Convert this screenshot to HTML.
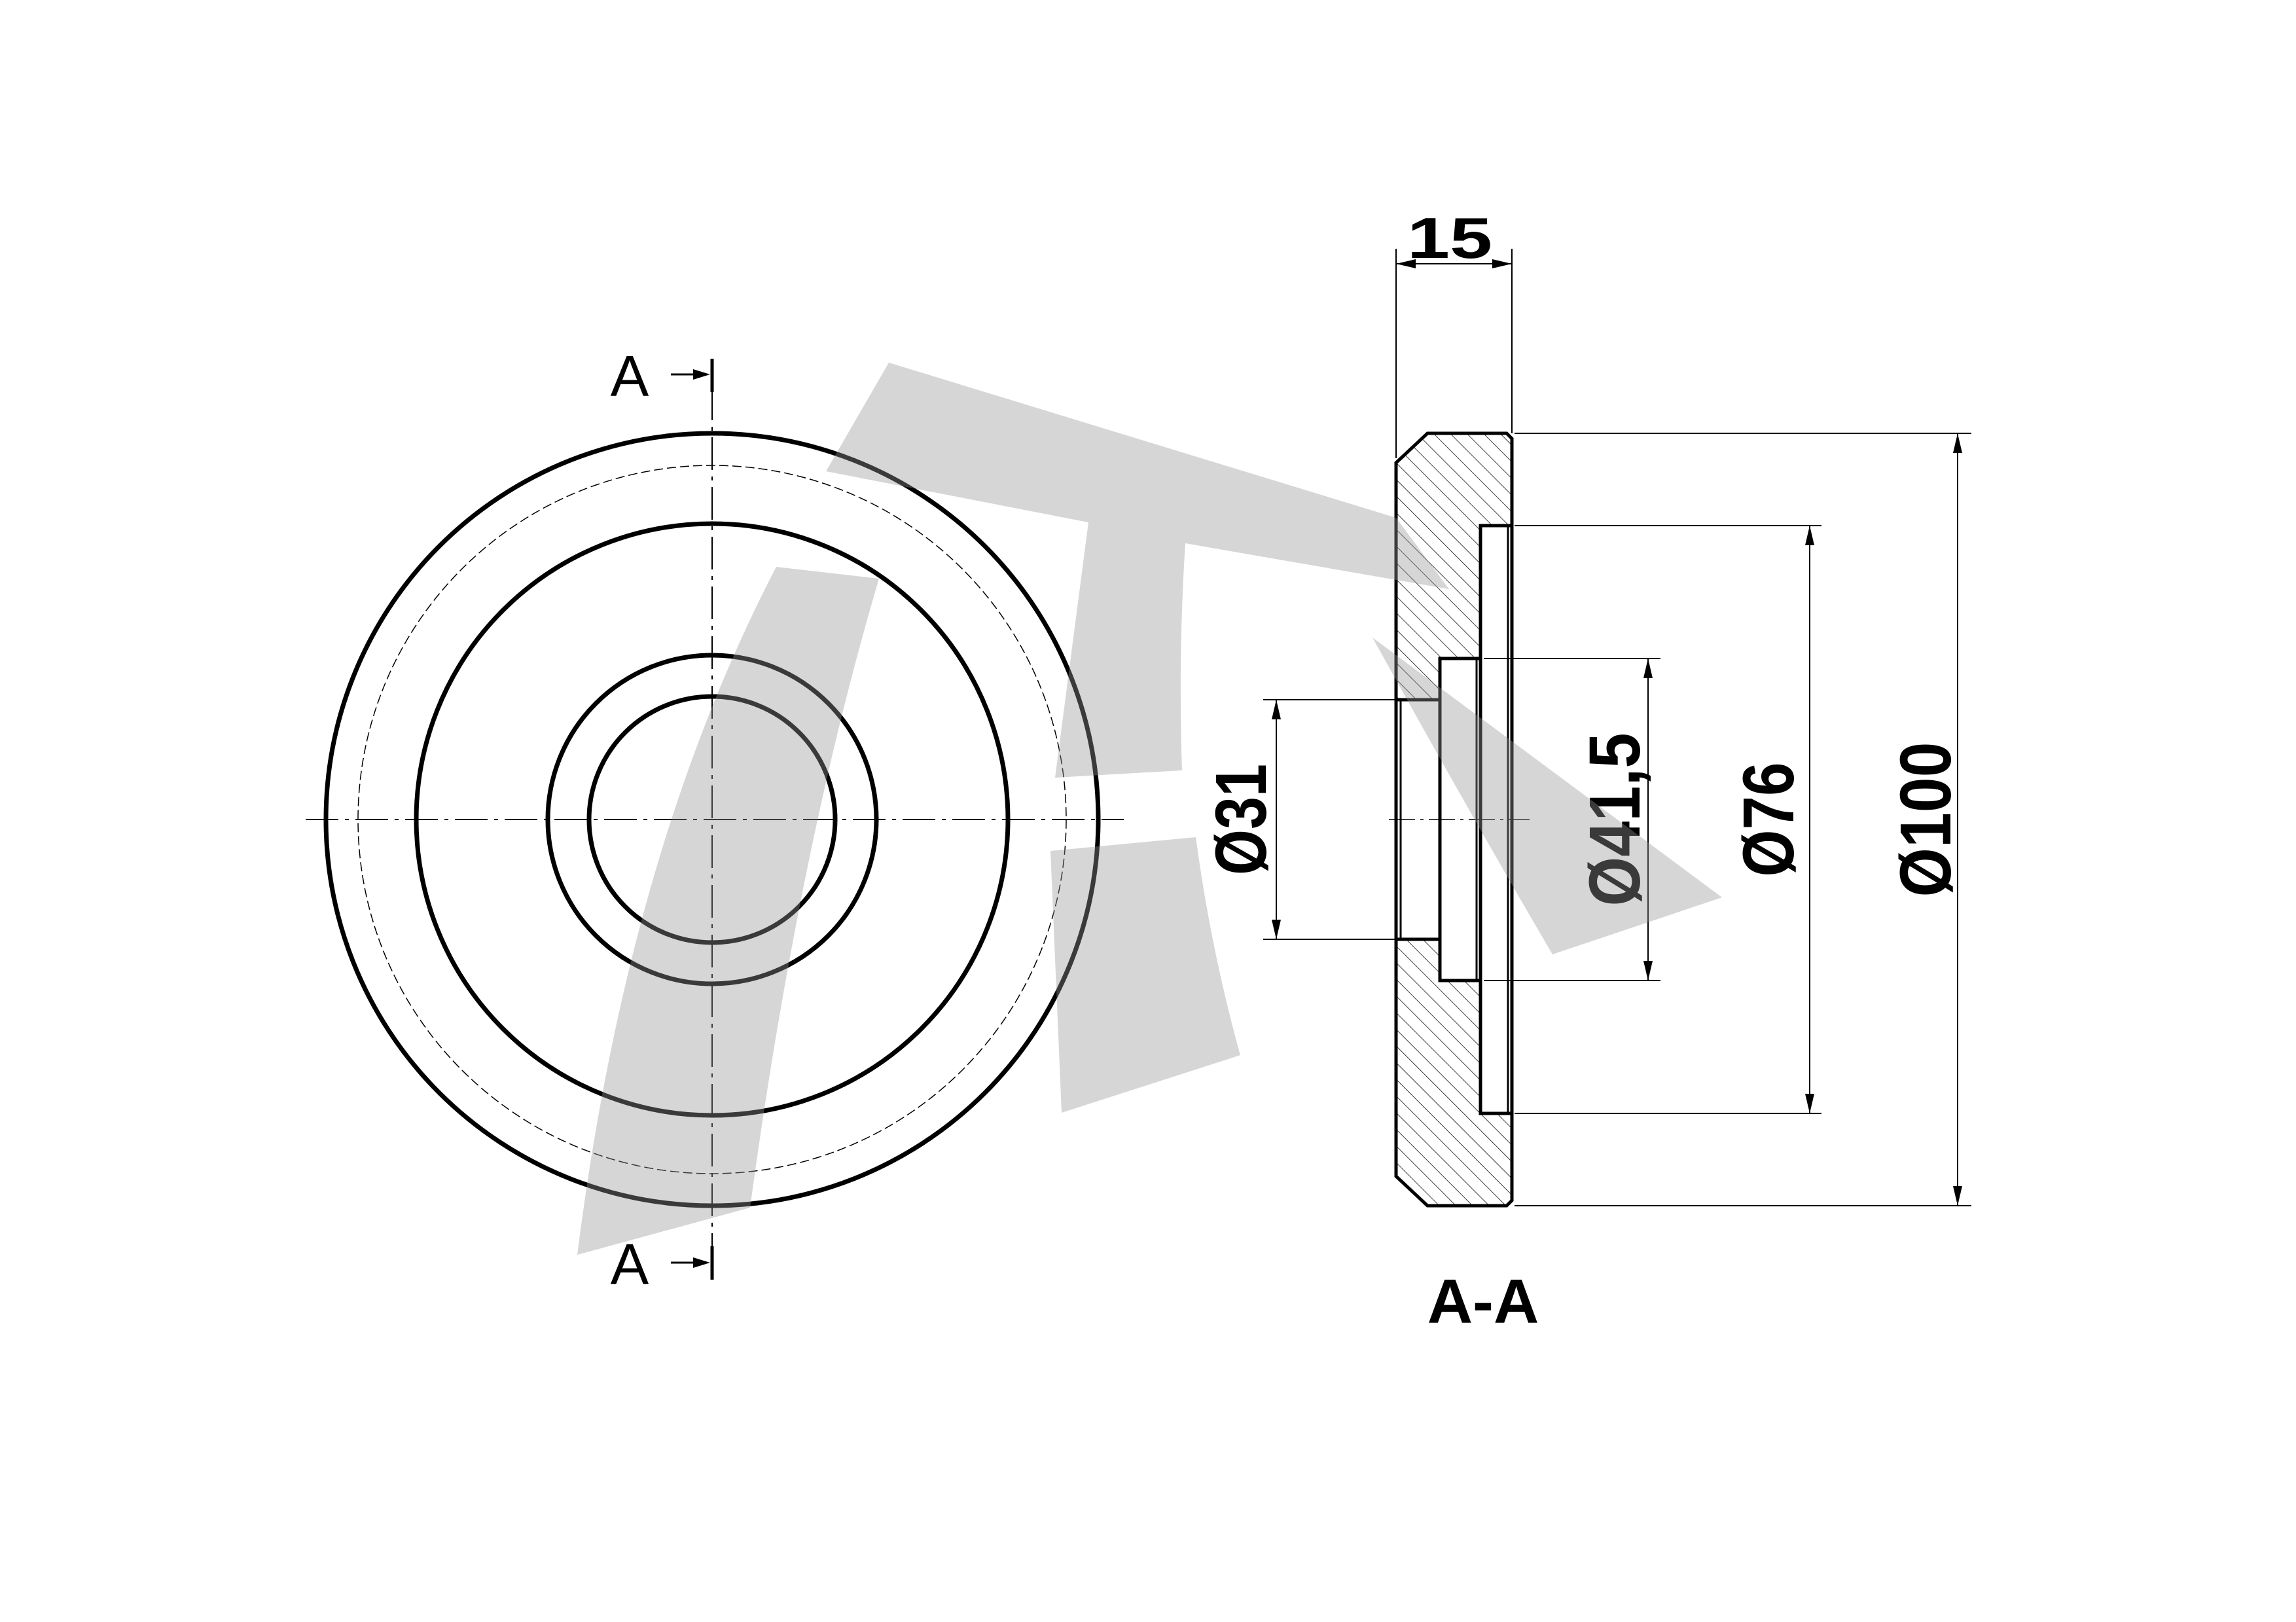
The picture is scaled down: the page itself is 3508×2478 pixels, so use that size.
<!DOCTYPE html>
<html><head><meta charset="utf-8"><style>html,body{margin:0;padding:0;background:#fff}svg{display:block}</style></head>
<body>
<svg width="3508" height="2478" viewBox="0 0 3508 2478" xmlns="http://www.w3.org/2000/svg">
<defs>
<pattern id="h" patternUnits="userSpaceOnUse" width="18" height="18" patternTransform="rotate(-45)">
<line x1="0" y1="0" x2="0" y2="18" stroke="#000" stroke-width="1.5"/>
</pattern>
</defs>
<rect width="3508" height="2478" fill="#fff"/>
<!-- front view -->
<g fill="none" stroke="#000">
<circle cx="1088" cy="1252" r="590" stroke-width="7"/>
<circle cx="1088" cy="1252" r="541" stroke-width="1.5" stroke-dasharray="14,6"/>
<circle cx="1088" cy="1252" r="452" stroke-width="7"/>
<circle cx="1088" cy="1252" r="251" stroke-width="7"/>
<circle cx="1088" cy="1252" r="188" stroke-width="7"/>
<line x1="467" y1="1252" x2="1717" y2="1252" stroke-width="2" stroke-dasharray="50,10,6,10"/>
<line x1="1088" y1="592" x2="1088" y2="1907" stroke-width="2" stroke-dasharray="50,10,6,10"/>
<line x1="1088" y1="548" x2="1088" y2="599" stroke-width="5"/>
<line x1="1088" y1="1904" x2="1088" y2="1955" stroke-width="5"/>
<line x1="1025" y1="572" x2="1065" y2="572" stroke-width="3"/>
<line x1="1025" y1="1929" x2="1065" y2="1929" stroke-width="3"/>
</g>
<path d="M1085,572 L1059,564 L1059,580 Z M1085,1929 L1059,1921 L1059,1937 Z" fill="#000"/>
<g font-family="Liberation Sans, sans-serif" font-size="88" fill="#000">
<text x="962" y="605" text-anchor="middle">A</text>
<text x="962" y="1962" text-anchor="middle">A</text>
</g>
<!-- section -->
<path d="M2181,662 L2302,662 L2310,670 L2310,803 L2262,803 L2262,1006 L2200,1006 L2200,1069 L2133,1069 L2133,707 Z" fill="url(#h)"/>
<path d="M2181,1842 L2302,1842 L2310,1834 L2310,1701 L2262,1701 L2262,1498 L2200,1498 L2200,1435 L2133,1435 L2133,1797 Z" fill="url(#h)"/>
<g fill="none" stroke="#000" stroke-width="5">
<path d="M2181,662 L2302,662 L2310,670 L2310,1834 L2302,1842 L2181,1842 L2133,1797 L2133,707 Z"/>
<path d="M2310,803 L2262,803 L2262,1006 L2200,1006 L2200,1069 L2133,1069"/>
<path d="M2310,1701 L2262,1701 L2262,1498 L2200,1498 L2200,1435 L2133,1435"/>
<line x1="2200" y1="1069" x2="2200" y2="1435"/>
<line x1="2262" y1="1006" x2="2262" y2="1498"/>
<line x1="2304" y1="803" x2="2304" y2="1701" stroke-width="3"/>
<line x1="2256" y1="1006" x2="2256" y2="1498" stroke-width="3"/>
<line x1="2140" y1="1069" x2="2140" y2="1435" stroke-width="3"/>
</g>
<line x1="2122" y1="1252" x2="2337" y2="1252" stroke="#000" stroke-width="1.5" stroke-dasharray="40,8,5,8"/>
<!-- dimensions -->
<g stroke="#000" stroke-width="2" fill="none">
<line x1="2133" y1="380" x2="2133" y2="700"/>
<line x1="2310" y1="380" x2="2310" y2="662"/>
<line x1="2133" y1="403" x2="2310" y2="403"/>
<line x1="2314" y1="662" x2="3012" y2="662"/>
<line x1="2314" y1="1842" x2="3012" y2="1842"/>
<line x1="2991" y1="662" x2="2991" y2="1842"/>
<line x1="2314" y1="803" x2="2783" y2="803"/>
<line x1="2314" y1="1701" x2="2783" y2="1701"/>
<line x1="2765" y1="803" x2="2765" y2="1701"/>
<line x1="2267" y1="1006" x2="2537" y2="1006"/>
<line x1="2267" y1="1498" x2="2537" y2="1498"/>
<line x1="2518" y1="1006" x2="2518" y2="1498"/>
<line x1="1930" y1="1069" x2="2133" y2="1069"/>
<line x1="1930" y1="1435" x2="2133" y2="1435"/>
<line x1="1950" y1="1069" x2="1950" y2="1435"/>
</g>
<g fill="#000">
<path d="M2133,403 l30,-7 l0,14 Z M2310,403 l-30,-7 l0,14 Z"/>
<path d="M2991,662 l-7,30 l14,0 Z M2991,1842 l-7,-30 l14,0 Z"/>
<path d="M2765,803 l-7,30 l14,0 Z M2765,1701 l-7,-30 l14,0 Z"/>
<path d="M2518,1006 l-7,30 l14,0 Z M2518,1498 l-7,-30 l14,0 Z"/>
<path d="M1950,1069 l-7,30 l14,0 Z M1950,1435 l-7,-30 l14,0 Z"/>
</g>
<g font-family="Liberation Sans, sans-serif" font-weight="bold" fill="#000">
<text x="2215" y="394" font-size="88" text-anchor="middle" textLength="130" lengthAdjust="spacingAndGlyphs">15</text>
<text x="2266" y="2021" font-size="96" text-anchor="middle">A-A</text>
<text transform="translate(1934,1252) rotate(-90)" font-size="110" text-anchor="middle" textLength="170" lengthAdjust="spacingAndGlyphs">Ø31</text>
<text transform="translate(2505,1252) rotate(-90)" font-size="110" text-anchor="middle" textLength="265" lengthAdjust="spacingAndGlyphs">Ø41,5</text>
<text transform="translate(2740,1252) rotate(-90)" font-size="110" text-anchor="middle" textLength="175" lengthAdjust="spacingAndGlyphs">Ø76</text>
<text transform="translate(2980,1252) rotate(-90)" font-size="110" text-anchor="middle" textLength="237" lengthAdjust="spacingAndGlyphs">Ø100</text>
</g>
<!-- watermark (translucent, on top) -->
<g fill="#969696" fill-opacity="0.39">
<path d="M1186,866 L1343,884 Q1220,1300 1146,1845 L882,1917 Q960,1300 1186,866 Z"/>
<path d="M1358,554 L2133,791 L2214,900 L1811,830 Q1800,1000 1806,1177 L1612,1188 L1663,798 L1262,720 Z"/>
<path d="M2097,974 L2631,1371 L2372,1458 Q2250,1250 2097,974 Z"/>
<path d="M1605,1300 L1827,1279 Q1850,1450 1895,1612 L1622,1700 Z"/>
</g>
</svg>
</body></html>
